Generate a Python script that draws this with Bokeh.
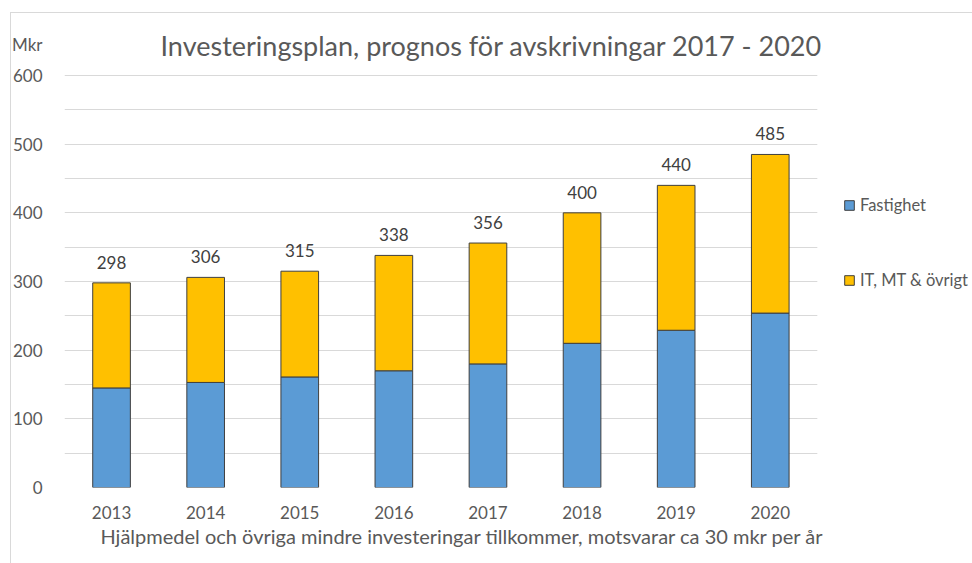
from bokeh.plotting import figure
from bokeh.models import (ColumnDataSource, FixedTicker, LabelSet, Legend, Label,
                          LegendItem, Title, Range1d, BoxAnnotation, InlineStyleSheet)
from bokeh.core.properties import value
from bokeh.embed import file_html
from bokeh.resources import INLINE

years = ["2013", "2014", "2015", "2016", "2017", "2018", "2019", "2020"]
fastighet = [145, 153, 161, 170, 180, 210, 229, 254]
it_mt_ovrigt = [153, 153, 154, 168, 176, 190, 211, 231]
totals = [f + i for f, i in zip(fastighet, it_mt_ovrigt)]
y_ticks = [0, 100, 200, 300, 400, 500, 600]
grid_ticks = list(range(0, 601, 50))
unit_label = "Mkr"

FONT = "Lato"
GRAY = "#595959"

xpos = list(range(len(years)))
src = ColumnDataSource(dict(x=xpos, fastighet=fastighet, it=it_mt_ovrigt,
                            total=totals, label=[str(t) for t in totals]))

# the value axis runs 0-600; space above 600 holds the title and unit
p = figure(width=972, height=563, x_range=Range1d(-0.5, 9.149),
           y_range=Range1d(0, 600 * 475 / 412),
           output_backend="svg", toolbar_location=None,
           min_border_left=64, min_border_right=0, min_border_top=12,
           min_border_bottom=76)
p.outline_line_color = None

r = p.vbar_stack(["fastighet", "it"], x="x", width=0.4, source=src,
                 color=["#5B9BD5", "#FFC000"], line_color="#3F3F3F", line_width=1)

p.xaxis.ticker = FixedTicker(ticks=xpos)
p.xaxis.major_label_overrides = {i: y for i, y in zip(xpos, years)}
unit_pos = 645
p.yaxis.ticker = FixedTicker(ticks=y_ticks + [unit_pos])
p.yaxis.major_label_overrides = {unit_pos: unit_label}
p.ygrid.ticker = FixedTicker(ticks=grid_ticks)
p.ygrid.grid_line_color = "#D9D9D9"
p.xgrid.grid_line_color = None
for ax in (p.xaxis, p.yaxis):
    ax.axis_line_color = None
    ax.major_tick_line_color = None
    ax.minor_tick_line_color = None
    ax.major_label_text_font = FONT
    ax.major_label_text_font_size = "17px"
    ax.major_label_text_color = GRAY
p.yaxis.major_label_standoff = 16
p.xaxis.major_label_standoff = 12

# blank out grid lines right of the category area
p.add_layout(BoxAnnotation(left=len(years) - 0.5, fill_color="white", fill_alpha=1,
                           line_color=None, level="underlay"))

labels = LabelSet(x="x", y="total", text="label", source=src, y_offset=14,
                  text_align="center", text_baseline="bottom", text_font=value(FONT),
                  text_font_size=value("17px"), text_color=value("#404040"))
p.add_layout(labels)

p.add_layout(Label(x=96, x_units="screen", y=643,
                   text="Investeringsplan, prognos för avskrivningar 2017 - 2020",
                   text_font=FONT, text_font_size="27px", text_color=GRAY,
                   text_align="left", text_baseline="middle"))

p.add_layout(Title(text="Hjälpmedel och övriga mindre investeringar tillkommer, motsvarar ca 30 mkr per år",
                   align="left", offset=36, text_font=FONT, text_font_size="20px",
                   text_font_style="normal", text_color=GRAY, standoff=0), "below")

legend = Legend(items=[LegendItem(label="Fastighet", renderers=[r[0]]),
                       LegendItem(label="IT, MT & övrigt", renderers=[r[1]])],
                location=(779, 197), orientation="vertical", spacing=55,
                glyph_width=12, glyph_height=12, label_text_font=FONT,
                label_text_font_size="16.5px", label_text_color=GRAY,
                label_height=20, border_line_color=None, background_fill_alpha=0,
                padding=0, margin=0, label_standoff=5)
p.add_layout(legend)

p.stylesheets = [InlineStyleSheet(css=":host::after{content:'';position:absolute;left:10px;top:12px;"
                                      "width:962px;height:551px;box-sizing:border-box;"
                                      "border-left:1px solid #D9D9D9;border-top:1px solid #D9D9D9;"
                                      "pointer-events:none;}")]

open("out.html", "w").write(file_html(p, INLINE))
